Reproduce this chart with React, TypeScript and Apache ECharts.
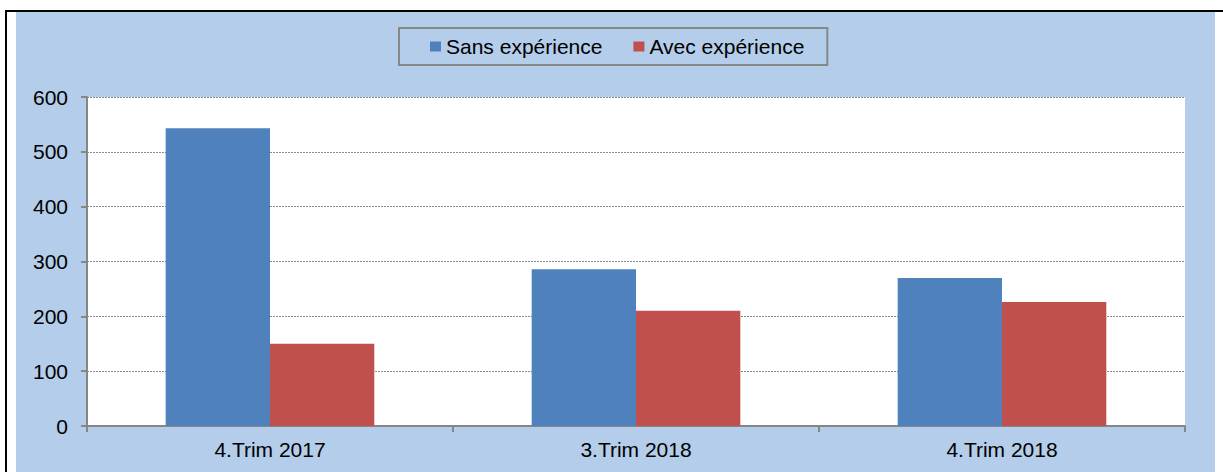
import React, { useEffect, useRef } from "react";
import * as echarts from "echarts";

const categories = ["4.Trim 2017", "3.Trim 2018", "4.Trim 2018"];
const seriesNames = ["Sans expérience", "Avec expérience"];
const sansExperience = [543, 286, 270];
const avecExperience = [150, 210, 226];
const yTicks = { min: 0, max: 600, interval: 100 };

const FONT = "'Liberation Sans', Arial, sans-serif";
const BG = "#B3CDEA";

export default function App() {
  const ref = useRef<HTMLDivElement>(null);
  useEffect(() => {
    if (!ref.current) return;
    const chart = echarts.init(ref.current, undefined, { renderer: "svg" });
    chart.setOption({
      animation: false,
      backgroundColor: "#ffffff",
      textStyle: { fontFamily: FONT },
      graphic: [
        { type: "rect", z: -10, silent: true, shape: { x: 16, y: 12, width: 1199, height: 460 }, style: { fill: BG } },
        { type: "rect", z: -10, silent: true, shape: { x: 5, y: 10, width: 1218, height: 2 }, style: { fill: "#000" } },
        { type: "rect", z: -10, silent: true, shape: { x: 5, y: 10, width: 2, height: 462 }, style: { fill: "#000" } },
      ],
      legend: {
        left: 399,
        top: 28,
        padding: [8, 23, 8, 31],
        itemWidth: 11,
        itemHeight: 10,
        itemGap: 31,
        backgroundColor: BG,
        borderColor: "#888888",
        borderWidth: 2,
        icon: "rect",
        textStyle: { fontFamily: FONT, fontSize: 21, color: "#000" },
        data: seriesNames,
      },
      grid: {
        left: 87,
        top: 97,
        right: 38,
        bottom: 46,
        show: true,
        backgroundColor: "#ffffff",
        borderWidth: 0,
      },
      xAxis: {
        type: "category",
        data: categories,
        axisLine: { lineStyle: { color: "#868686", width: 2 } },
        axisTick: { show: true, length: 6, lineStyle: { color: "#868686", width: 2 } },
        axisLabel: { fontFamily: FONT, fontSize: 21, color: "#000", margin: 13 },
      },
      yAxis: {
        type: "value",
        min: yTicks.min,
        max: yTicks.max,
        interval: yTicks.interval,
        axisLine: { show: true, lineStyle: { color: "#868686", width: 2 } },
        axisTick: { show: true, length: 6, lineStyle: { color: "#868686", width: 2 } },
        axisLabel: { fontFamily: FONT, fontSize: 21, color: "#000", margin: 19 },
        splitLine: { show: true, lineStyle: { color: "#8c8c8c", type: [2, 1], width: 1 } },
      },
      series: [
        {
          name: seriesNames[0],
          type: "bar",
          data: sansExperience,
          barGap: "0%",
          barCategoryGap: "43%",
          itemStyle: { color: "#4F81BD" },
        },
        {
          name: seriesNames[1],
          type: "bar",
          data: avecExperience,
          barGap: "0%",
          barCategoryGap: "43%",
          itemStyle: { color: "#C0504D" },
        },
      ],
    });
    return () => chart.dispose();
  }, []);
  return (
    <div
      ref={ref}
      style={{ position: "absolute", left: 0, top: 0, width: 1223, height: 472 }}
    />
  );
}
